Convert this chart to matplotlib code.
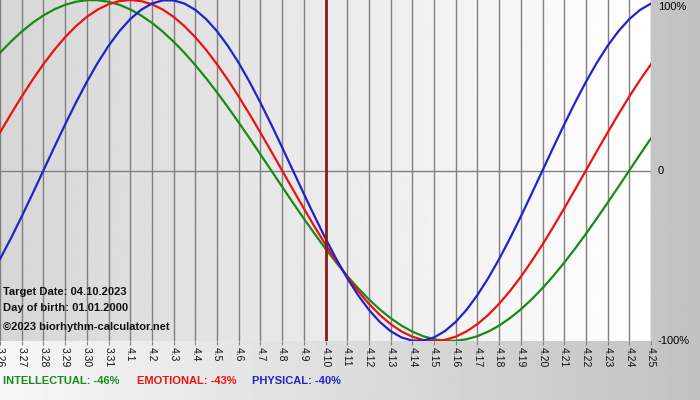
import numpy as np
import matplotlib
matplotlib.use('Agg')
from matplotlib import pyplot as plt

plt.rcParams['font.family'] = ['Liberation Sans', 'DejaVu Sans']

# day labels, 3.26 .. 4.25 (target date 4.10 in the middle)
days = ['3.26', '3.27', '3.28', '3.29', '3.30', '3.31'] + ['4.%d' % i for i in range(1, 26)]
target_day = '4.10'

# biorhythm values every half day from 3.26 to 4.25
physical = [-0.5196, -0.3984, -0.2698, -0.1362,
            0.0, 0.1362, 0.2698, 0.3984, 0.5196, 0.6311, 0.7308, 0.8170, 0.8879, 0.9423,
            0.9791, 0.9977, 0.9977, 0.9791, 0.9423, 0.8879, 0.8170, 0.7308, 0.6311, 0.5196,
            0.3984, 0.2698, 0.1362,
            0.0, -0.1362, -0.2698, -0.3984, -0.5196, -0.6311, -0.7308, -0.8170, -0.8879,
            -0.9423, -0.9791, -0.9977, -0.9977, -0.9791, -0.9423, -0.8879, -0.8170, -0.7308,
            -0.6311, -0.5196, -0.3984, -0.2698, -0.1362,
            0.0, 0.1362, 0.2698, 0.3984, 0.5196, 0.6311, 0.7308, 0.8170, 0.8879, 0.9423, 0.9791]
emotional = [0.2225, 0.3303, 0.4339, 0.5320, 0.6235, 0.7071, 0.7818, 0.8467, 0.9010, 0.9439,
             0.9749, 0.9937, 1.0, 0.9937, 0.9749, 0.9439, 0.9010, 0.8467, 0.7818, 0.7071,
             0.6235, 0.5320, 0.4339, 0.3303, 0.2225, 0.1120,
             0.0, -0.1120, -0.2225, -0.3303, -0.4339, -0.5320, -0.6235, -0.7071, -0.7818,
             -0.8467, -0.9010, -0.9439, -0.9749, -0.9937, -1.0, -0.9937, -0.9749, -0.9439,
             -0.9010, -0.8467, -0.7818, -0.7071, -0.6235, -0.5320, -0.4339, -0.3303, -0.2225,
             -0.1120,
             0.0, 0.1120, 0.2225, 0.3303, 0.4339, 0.5320, 0.6235]
intellectual = [0.6901, 0.7557, 0.8146, 0.8660, 0.9096, 0.9450, 0.9718, 0.9898, 0.9989, 0.9989,
                0.9898, 0.9718, 0.9450, 0.9096, 0.8660, 0.8146, 0.7557, 0.6901, 0.6182, 0.5406,
                0.4582, 0.3717, 0.2817, 0.1893, 0.0951,
                0.0, -0.0951, -0.1893, -0.2817, -0.3717, -0.4582, -0.5406, -0.6182, -0.6901,
                -0.7557, -0.8146, -0.8660, -0.9096, -0.9450, -0.9718, -0.9898, -0.9989, -0.9989,
                -0.9898, -0.9718, -0.9450, -0.9096, -0.8660, -0.8146, -0.7557, -0.6901, -0.6182,
                -0.5406, -0.4582, -0.3717, -0.2817, -0.1893, -0.0951,
                0.0, 0.0951, 0.1893]

legend_items = [('INTELLECTUAL: -46%', '#168c16'),
                ('EMOTIONAL: -43%', '#ee1111'),
                ('PHYSICAL: -40%', '#2222cc')]
info_lines = ['Target Date: 04.10.2023', 'Day of birth: 01.01.2000']
copyright_text = '\u00a92023 biorhythm-calculator.net'

fig = plt.figure(figsize=(7, 4), dpi=100)

# figure background: horizontal gradient light -> gray
bg = fig.add_axes([0, 0, 1, 1], zorder=-10)
bg.imshow(np.linspace(0.97, 0.76, 256).reshape(1, -1), cmap='gray', vmin=0, vmax=1,
          aspect='auto', extent=[0, 1, 0, 1])
bg.axis('off')

ax = fig.add_axes([0, 1 - 341 / 400, 651 / 700, 341 / 400])
xd = np.arange(len(days))
xh = np.arange(len(physical)) / 2.0
ax.set_xlim(0, len(days) - 1)
ax.set_ylim(-1, 1)

# plot area gradient
ax.imshow(np.linspace(0.84, 1.0, 256).reshape(1, -1), cmap='gray', vmin=0, vmax=1,
          aspect='auto', extent=[0, len(days) - 1, -1, 1], zorder=0)

for xi in xd:
    ax.axvline(xi, color='#808080', lw=1, zorder=1)
ax.axhline(0, color='#808080', lw=1, zorder=1)
ax.axvline(days.index(target_day), color='#8b1a1a', lw=2, zorder=3)

ax.plot(xh, intellectual, color='#168c16', lw=1.6, zorder=2)
ax.plot(xh, emotional, color='#ee1111', lw=1.6, zorder=2)
ax.plot(xh, physical, color='#2222cc', lw=1.6, zorder=2)

for s in ax.spines.values():
    s.set_visible(False)
ax.set_xticks(xd)
ax.set_xticklabels(days, rotation=270, fontsize=7.5, color='#111111')
ax.tick_params(axis='x', length=3, color='#808080', pad=1)
ax.set_yticks([])

# right side labels
for val, lab, dy in [(1, '100%', -5), (0, '0', 0), (-1, '-100%', 0)]:
    ax.annotate(lab, xy=(1, val), xycoords=('axes fraction', 'data'),
                xytext=(5, dy), textcoords='offset points', va='center',
                ha='left', fontsize=8, color='black', annotation_clip=False)

for i, t in enumerate(info_lines):
    fig.text(3 / 700, 1 - (292 + 16 * i) / 400, t, fontsize=8, fontweight='bold',
             va='center', ha='left', color='#111111')
fig.text(3 / 700, 1 - 327 / 400, copyright_text, fontsize=8, fontweight='bold',
         va='center', ha='left', color='#111111')

xpos = [3, 137, 252]
for (lab, col), xp in zip(legend_items, xpos):
    fig.text(xp / 700, 1 - 381 / 400, lab, fontsize=8, fontweight='bold',
             color=col, va='center', ha='left')

fig.savefig('out.png', dpi=100)
